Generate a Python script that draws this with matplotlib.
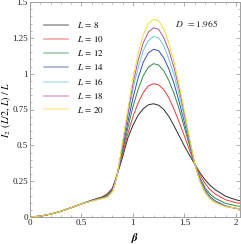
import numpy as np
import matplotlib
matplotlib.use('Agg')
import matplotlib.pyplot as plt
from matplotlib.ticker import MultipleLocator, FixedLocator

plt.rcParams['font.family'] = ['Liberation Serif', 'DejaVu Serif']
plt.rcParams['mathtext.fontset'] = 'stix'

#--- data ---------------------------------------------------------------
beta = [0.0, 0.1, 0.2, 0.3, 0.4, 0.5, 0.6, 0.7, 0.75, 0.8, 0.825, 0.85, 0.875,
        0.9, 0.95, 1.0, 1.05, 1.1, 1.15, 1.2, 1.25, 1.3, 1.35, 1.4, 1.45,
        1.5, 1.55, 1.6, 1.65, 1.7, 1.75, 1.8, 1.9, 2.0, 2.05]

sizes = [8, 10, 12, 14, 16, 18, 20]

i2_L8 = [0.0, 0.006, 0.02, 0.04, 0.065, 0.092, 0.117, 0.14, 0.16, 0.2, 0.25,
         0.305, 0.36, 0.42, 0.55, 0.64, 0.71, 0.755, 0.783, 0.79, 0.78, 0.75,
         0.70, 0.635, 0.565, 0.495, 0.43, 0.37, 0.31, 0.26, 0.22, 0.19, 0.145,
         0.12, 0.112]
i2_L10 = [0.0, 0.006, 0.02, 0.04, 0.065, 0.092, 0.116, 0.138, 0.155, 0.195,
          0.245, 0.305, 0.37, 0.44, 0.58, 0.70, 0.795, 0.868, 0.915, 0.93,
          0.922, 0.888, 0.83, 0.75, 0.66, 0.565, 0.465, 0.37, 0.295, 0.235,
          0.19, 0.16, 0.12, 0.1, 0.095]
i2_L12 = [0.0, 0.006, 0.02, 0.04, 0.065, 0.092, 0.115, 0.136, 0.15, 0.19,
          0.24, 0.305, 0.38, 0.46, 0.62, 0.77, 0.89, 0.985, 1.045, 1.07, 1.06,
          1.02, 0.95, 0.86, 0.75, 0.625, 0.495, 0.37, 0.275, 0.205, 0.16,
          0.13, 0.095, 0.078, 0.074]
i2_L14 = [0.0, 0.006, 0.02, 0.04, 0.065, 0.092, 0.114, 0.134, 0.146, 0.185,
          0.235, 0.305, 0.39, 0.48, 0.66, 0.83, 0.97, 1.08, 1.145, 1.17, 1.16,
          1.11, 1.03, 0.93, 0.80, 0.66, 0.515, 0.372, 0.265, 0.19, 0.142,
          0.112, 0.078, 0.06, 0.055]
i2_L16 = [0.0, 0.006, 0.02, 0.04, 0.065, 0.092, 0.113, 0.132, 0.143, 0.182,
          0.233, 0.305, 0.40, 0.50, 0.70, 0.89, 1.04, 1.16, 1.23, 1.26, 1.25,
          1.195, 1.10, 0.99, 0.85, 0.69, 0.525, 0.372, 0.258, 0.18, 0.133,
          0.107, 0.075, 0.06, 0.056]
i2_L18 = [0.0, 0.006, 0.02, 0.04, 0.065, 0.092, 0.112, 0.13, 0.14, 0.178,
          0.23, 0.305, 0.405, 0.51, 0.72, 0.93, 1.09, 1.215, 1.29, 1.32, 1.31,
          1.25, 1.16, 1.04, 0.89, 0.72, 0.54, 0.372, 0.254, 0.175, 0.128,
          0.104, 0.074, 0.06, 0.057]
i2_L20 = [0.0, 0.006, 0.02, 0.04, 0.065, 0.092, 0.111, 0.128, 0.137, 0.175,
          0.228, 0.305, 0.415, 0.53, 0.75, 0.97, 1.14, 1.27, 1.35, 1.38, 1.37,
          1.31, 1.21, 1.08, 0.92, 0.74, 0.55, 0.372, 0.25, 0.17, 0.125, 0.10,
          0.072, 0.062, 0.06]

curves = [i2_L8, i2_L10, i2_L12, i2_L14, i2_L16, i2_L18, i2_L20]
colors = ['#2b2b2b', '#f03a3a', '#2f8a45', '#3550b0', '#6cc8dc', '#b0509c', '#f2e030']

#-------------------------------------------------------------------------
fig = plt.figure(figsize=(2.41, 2.44), dpi=100)
ax = fig.add_axes([30/241., 27/244., 210/241., 215/244.])

for n in range(len(curves)):
  ax.plot(beta, curves[n], color=colors[n], linewidth=0.7)

# legend drawn with pale handles, like the original
handles = []
for n in range(len(sizes)):
  h, = ax.plot([], [], color=colors[n], alpha=0.45, linewidth=1.2,
               label=r'$L\,=\,%d$' % sizes[n])
  handles.append(h)
leg = ax.legend(handles=handles, loc='upper left',
                bbox_to_anchor=(0.03, 0.955), frameon=False, fontsize=6.5,
                handlelength=2.6, labelspacing=0.44, handletextpad=1.0)

ax.text(0.69, 0.885, r'$D\ \ =1.965$', transform=ax.transAxes, fontsize=6.8,
        color='#222222')

ax.set_xlim(0, 2.04)
ax.set_ylim(0, 1.5)
ax.xaxis.set_major_locator(FixedLocator([0, 0.5, 1, 1.5, 2]))
ax.xaxis.set_minor_locator(MultipleLocator(0.1))
ax.yaxis.set_major_locator(FixedLocator([0, 0.25, 0.5, 0.75, 1, 1.25, 1.5]))
ax.yaxis.set_minor_locator(MultipleLocator(0.05))
ax.set_xticklabels(['0', '0.5', '1', '1.5', '2'])
ax.set_yticklabels(['0', '0.25', '0.5', '0.75', '1', '1.25', '1.5'])

for s in ax.spines.values():
  s.set_color('#a0a0a0')
  s.set_linewidth(0.7)
ax.tick_params(which='both', direction='in', top=True, right=True,
               color='#a0a0a0', labelsize=6.5, labelcolor='#222222', pad=1.5)
ax.tick_params(which='major', length=3, width=0.6)
ax.tick_params(which='minor', length=1.6, width=0.5)

ax.set_xlabel(r'$\boldsymbol{\beta}$', fontsize=8, labelpad=3)
ax.set_ylabel(r'$I_2\ \,(L/2,\, L)\ /\ L$', fontsize=7.1)
ax.yaxis.set_label_coords(-0.082, 0.5)

plt.savefig('out.png', dpi=100)
plt.close()
